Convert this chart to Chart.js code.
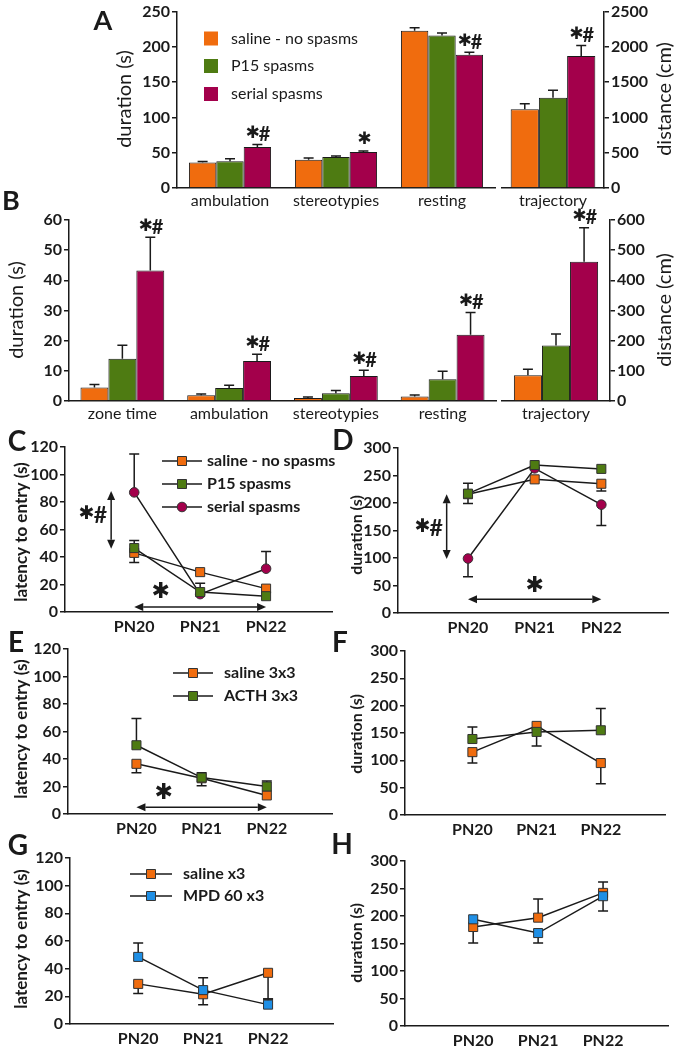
<!DOCTYPE html>
<html>
<head>
<meta charset="utf-8">
<script src="https://cdn.jsdelivr.net/npm/chart.js@4.4.1/dist/chart.umd.min.js"></script>
<style>
html, body { margin: 0; padding: 0; background: #fff; overflow: hidden; }
#wrap { position: relative; width: 677px; height: 1048px; }
#wrap canvas { position: absolute; left: 0; top: 0; }
</style>
</head>
<body>
<div id="wrap"></div>
<script>
// ---------- data ----------
const groupsAB = ['saline - no spasms', 'P15 spasms', 'serial spasms'];

// A: open field, whole session
const catsA = ['ambulation', 'stereotypies', 'resting'];
const salineA = [36, 40, 223];
const p15A = [38, 44, 216];
const serialA = [58, 51, 189];
const salineAErr = [1.5, 2.5, 4];
const p15AErr = [3.5, 1.5, 3.5];
const serialAErr = [3.5, 1.5, 3.5];
const starsA = ['*#', '*', '*#'];
const trajCat = ['trajectory'];
const trajA = [1115, 1280, 1870];
const trajAErr = [80, 105, 150];

// B: zone
const catsB = ['zone time', 'ambulation', 'stereotypies', 'resting'];
const salineB = [4.5, 1.9, 1.0, 1.5];
const p15B = [14, 4.3, 2.6, 7.2];
const serialB = [43.3, 13.3, 8.3, 22];
const salineBErr = [1, 0.4, 0.3, 0.5];
const p15BErr = [4.5, 0.9, 0.9, 2.7];
const serialBErr = [11, 2.2, 1.9, 7.3];
const starsB = ['*#', '*#', '*#', '*#'];
const trajB = [85, 184, 462];
const trajBErr = [20, 38, 112];

// C-H: days, signed errors (+ up, - down)
const days = ['PN20', 'PN21', 'PN22'];
const salineC = [43, 29, 17],    salineCErr = [-7, 0, 0];
const p15C = [46.5, 14.5, 11.5], p15CErr = [5.5, 6.5, 0];
const serialC = [87, 13, 31.5],  serialCErr = [28, 0, 12.5];

const salineD = [216, 243, 235], salineDErr = [-17, 0, -13];
const p15D = [217, 269, 262],    p15DErr = [19, 0, 0];
const serialD = [99, 263, 197],  serialDErr = [-33, 0, -38];

const groupsEF = ['saline 3x3', 'ACTH 3x3'];
const salineE = [36.5, 26, 13.5], salineEErr = [-6.5, -5.5, 0];
const acthE = [50, 26.5, 20],     acthEErr = [19.5, 3.5, 4];
const salineF = [115, 163, 95],   salineFErr = [-20, 0, -38];
const acthF = [139, 152, 155],    acthFErr = [22, -26, 40];

const groupsGH = ['saline x3', 'MPD 60 x3'];
const salineG = [29, 21.5, 37],   salineGErr = [-7, -7.5, -19];
const mpdG = [48.5, 24.5, 14],    mpdGErr = [10, 9, 4];
const salineH = [180, 197, 242],  salineHErr = [-29, 34, 20];
const mpdH = [194, 169, 236],     mpdHErr = [0, -18, -27];

// ---------- style ----------
const W = 677, H = 1048;
const INK = '#1a1a1a';
const FONT = 'Lato, "Open Sans", sans-serif';
const ORANGE = '#F06C0E', GREEN = '#4E7B12', RED = '#A3004B', BLUE = '#1F8FE5';
const barColors = [ORANGE, GREEN, RED];
const tickFont = { family: FONT, size: 16, weight: 'bold' };

function makeCanvas() {
  const c = document.createElement('canvas');
  c.width = W; c.height = H;
  document.getElementById('wrap').appendChild(c);
  return c.getContext('2d');
}

// chart area given in page pixels, y axis box has fixed width
function pad(area, yW, xH, right) {
  return right
    ? { left: area.l, top: area.t, right: W - area.r - yW, bottom: H - area.b - xH }
    : { left: area.l - yW, top: area.t, right: W - area.r, bottom: H - area.b - xH };
}

function vText(ctx, txt, x, y, font) {
  ctx.save();
  ctx.translate(x, y); ctx.rotate(-Math.PI / 2);
  ctx.font = font; ctx.fillStyle = INK;
  ctx.textAlign = 'center'; ctx.textBaseline = 'middle';
  ctx.fillText(txt, 0, 0);
  ctx.restore();
}
function hText(ctx, txt, x, y, font, align) {
  ctx.save();
  ctx.font = font; ctx.fillStyle = INK;
  ctx.textAlign = align || 'center'; ctx.textBaseline = 'middle';
  ctx.fillText(txt, x, y);
  ctx.restore();
}
function star(ctx, label, cx, cy, size) {
  ctx.save();
  ctx.fillStyle = INK; ctx.textBaseline = 'middle'; ctx.textAlign = 'left';
  const sf = size + 'px "DejaVu Sans"';
  const hf = 'bold ' + Math.round(size * 1.2) + 'px ' + FONT;
  ctx.font = sf; const ws = ctx.measureText('\u2731').width;
  ctx.font = hf; const wh = label.includes('#') ? ctx.measureText('#').width : 0;
  const x = cx - (ws + wh) / 2;
  ctx.font = sf; ctx.fillText('\u2731', x, cy);
  if (wh) { ctx.font = hf; ctx.fillText('#', x + ws - 1, cy + 1); }
  ctx.restore();
}
function arrow2(ctx, x1, y1, x2, y2) {
  const a = Math.atan2(y2 - y1, x2 - x1), L = 9, w = 4;
  const dx = Math.cos(a), dy = Math.sin(a);
  ctx.save();
  ctx.strokeStyle = INK; ctx.fillStyle = INK; ctx.lineWidth = 1.5;
  ctx.beginPath(); ctx.moveTo(x1 + dx * L, y1 + dy * L); ctx.lineTo(x2 - dx * L, y2 - dy * L); ctx.stroke();
  [[x1, y1, -1], [x2, y2, 1]].forEach(([px, py, s]) => {
    const bx = px - s * dx * L, by = py - s * dy * L;
    ctx.beginPath();
    ctx.moveTo(px, py);
    ctx.lineTo(bx - dy * w, by + dx * w);
    ctx.lineTo(bx + dy * w, by - dx * w);
    ctx.closePath(); ctx.fill();
  });
  ctx.restore();
}
function marker(ctx, style, x, y, color) {
  ctx.save();
  ctx.fillStyle = color; ctx.strokeStyle = '#333'; ctx.lineWidth = 1;
  ctx.beginPath();
  if (style === 'circle') ctx.arc(x, y, 4.8, 0, Math.PI * 2);
  else ctx.rect(x - 4.5, y - 4.5, 9, 9);
  ctx.fill(); ctx.stroke();
  ctx.restore();
}
function lineLegend(ctx, chart, x0, len, ys, textX, font) {
  chart.data.datasets.slice().sort((a, b) => a.legendIndex - b.legendIndex).forEach((ds, k) => {
    const y = ys[k];
    ctx.save();
    ctx.strokeStyle = INK; ctx.lineWidth = 1.5;
    ctx.beginPath(); ctx.moveTo(x0, y); ctx.lineTo(x0 + len, y); ctx.stroke();
    ctx.restore();
    marker(ctx, ds.pointStyle, x0 + len / 2, y, ds.pointBackgroundColor);
    hText(ctx, ds.label, textX, y, font, 'left');
  });
}

// error bars, drawn from each dataset's err array
function drawErr(chart) {
  const ctx = chart.ctx, ys = chart.scales.y;
  chart.data.datasets.forEach((ds, i) => {
    if (!ds.err) return;
    chart.getDatasetMeta(i).data.forEach((el, j) => {
      const e = ds.err[j];
      if (!e) return;
      const v = typeof ds.data[j] === 'object' ? ds.data[j].y : ds.data[j];
      const y0 = ys.getPixelForValue(v), y1 = ys.getPixelForValue(v + e);
      ctx.save();
      ctx.strokeStyle = INK; ctx.lineWidth = 1.5;
      ctx.beginPath();
      ctx.moveTo(el.x, y0); ctx.lineTo(el.x, y1);
      ctx.moveTo(el.x - 5, y1); ctx.lineTo(el.x + 5, y1);
      ctx.stroke();
      ctx.restore();
    });
  });
}
const errPlugin = {
  id: 'errBars',
  beforeDatasetsDraw(chart) { if (chart.config.type === 'line') drawErr(chart); },
  afterDatasetsDraw(chart) { if (chart.config.type === 'bar') drawErr(chart); }
};

// stars above the serial-spasms bar (dataset 2)
function barStars(chart, stars, size) {
  const ys = chart.scales.y, ds = chart.data.datasets[2];
  chart.getDatasetMeta(2).data.forEach((el, j) => {
    if (!stars[j]) return;
    const top = ys.getPixelForValue(ds.data[j] + (ds.err[j] || 0));
    star(chart.ctx, stars[j], el.x + 1, top - 11, size);
  });
}

// ---------- bar panels ----------
function barPanel(o) {
  const ctx = makeCanvas();
  const yW = 60, xH = 30;
  return new Chart(ctx, {
    type: 'bar',
    data: {
      labels: o.cats,
      datasets: o.series.map((s, k) => ({
        label: groupsAB[k], data: s, err: o.errs[k],
        backgroundColor: barColors[k], borderColor: INK, borderWidth: 1,
        categoryPercentage: o.catPct, barPercentage: 1
      }))
    },
    options: {
      responsive: false, animation: false, events: [],
      layout: { padding: pad(o.area, yW, xH, o.side === 'right') },
      plugins: { legend: { display: false }, tooltip: { enabled: false } },
      scales: {
        x: {
          afterFit: s => { s.height = xH; },
          grid: { display: false, drawTicks: false },
          border: { color: INK, width: 1.5 },
          ticks: { color: INK, font: { family: FONT, size: 16 }, padding: 3 }
        },
        y: {
          position: o.side, min: 0, max: o.yMax,
          afterFit: s => { s.width = yW; },
          ticks: { stepSize: o.yStep, color: INK, font: tickFont, padding: 2, callback: v => String(v) },
          grid: { drawOnChartArea: false, tickLength: 5, color: INK, lineWidth: 1.5 },
          border: { color: INK, width: 1.5 }
        }
      }
    },
    plugins: [errPlugin, { id: 'deco', afterDraw: c => o.draw(c) }]
  });
}

barPanel({
  area: { l: 177, t: 10, r: 495, b: 188 }, side: 'left', yMax: 250, yStep: 50,
  cats: catsA, series: [salineA, p15A, serialA], errs: [salineAErr, p15AErr, serialAErr], catPct: 0.775,
  draw: c => {
    const ctx = c.ctx;
    barStars(c, starsA, 17);
    hText(ctx, 'A', 103, 21, 'bold 27px ' + FONT);
    vText(ctx, 'duration (s)', 125, 99, '20px ' + FONT);
    groupsAB.forEach((g, k) => {
      const y = [38.5, 66, 94][k];
      ctx.fillStyle = barColors[k];
      ctx.fillRect(204, y - 7, 14, 14);
      hText(ctx, g, 231, y, '16px ' + FONT, 'left');
    });
  }
});
barPanel({
  area: { l: 502, t: 10, r: 604, b: 188 }, side: 'right', yMax: 2500, yStep: 500,
  cats: trajCat, series: trajA.map(v => [v]), errs: trajAErr.map(e => [e]), catPct: 0.83,
  draw: c => {
    barStars(c, ['*#'], 17);
    vText(c.ctx, 'distance (cm)', 665, 99, '20px ' + FONT);
  }
});
barPanel({
  area: { l: 69, t: 220, r: 496, b: 401 }, side: 'left', yMax: 60, yStep: 10,
  cats: catsB, series: [salineB, p15B, serialB], errs: [salineBErr, p15BErr, serialBErr], catPct: 0.785,
  draw: c => {
    barStars(c, starsB, 17);
    hText(c.ctx, 'B', 11, 201, 'bold 27px ' + FONT);
    vText(c.ctx, 'duration (s)', 17, 310, '20px ' + FONT);
  }
});
barPanel({
  area: { l: 502, t: 220, r: 610, b: 401 }, side: 'right', yMax: 600, yStep: 100,
  cats: trajCat, series: trajB.map(v => [v]), errs: trajBErr.map(e => [e]), catPct: 0.78,
  draw: c => {
    barStars(c, ['*#'], 17);
    vText(c.ctx, 'distance (cm)', 665, 310, '20px ' + FONT);
  }
});

// ---------- line panels ----------
const lineFont = 'bold 16px ' + FONT;
function series(label, vals, errs, color, style, order, legendIndex) {
  return {
    label, err: errs, order, legendIndex,
    data: vals.map((v, i) => ({ x: i, y: v })),
    borderColor: INK, borderWidth: 1.5, tension: 0,
    pointStyle: style, pointRadius: style === 'circle' ? 4.8 : 6.4,
    pointBackgroundColor: color, pointBorderColor: '#333', pointBorderWidth: 1
  };
}
function linePanel(o) {
  const ctx = makeCanvas();
  const yW = 60, xH = 32;
  return new Chart(ctx, {
    type: 'line',
    data: { datasets: o.datasets },
    options: {
      responsive: false, animation: false, events: [],
      layout: { padding: pad(o.area, yW, xH, false) },
      plugins: { legend: { display: false }, tooltip: { enabled: false } },
      scales: {
        x: {
          type: 'linear', min: -1.05, max: 3,
          afterFit: s => { s.height = xH; },
          afterBuildTicks: s => { s.ticks = days.map((d, i) => ({ value: i })); },
          grid: { display: false, drawTicks: false },
          border: { color: INK, width: 1.5 },
          ticks: { color: INK, font: tickFont, padding: 5, callback: v => days[v] }
        },
        y: {
          min: 0, max: o.yMax,
          afterFit: s => { s.width = yW; },
          ticks: { stepSize: o.yStep, color: INK, font: tickFont, padding: 2 },
          grid: { drawOnChartArea: false, tickLength: 5, color: INK, lineWidth: 1.5 },
          border: { color: INK, width: 1.5 }
        }
      }
    },
    plugins: [errPlugin, { id: 'deco', afterDraw: c => o.draw(c, c.scales.x, c.scales.y) }]
  });
}

linePanel({
  area: { l: 65, t: 447, r: 332, b: 612 }, yMax: 120, yStep: 20,
  datasets: [
    series(groupsAB[1], p15C, p15CErr, GREEN, 'rect', 0, 1),
    series(groupsAB[0], salineC, salineCErr, ORANGE, 'rect', 1, 0),
    series(groupsAB[2], serialC, serialCErr, RED, 'circle', 2, 2)
  ],
  draw: (c, x, y) => {
    const ctx = c.ctx;
    hText(ctx, 'C', 17, 442, 'bold 28px ' + FONT);
    vText(ctx, 'latency to entry (s)', 22, 532, 'bold 17px ' + FONT);
    lineLegend(ctx, c, 162, 40, [461, 484, 507], 207, lineFont);
    arrow2(ctx, x.getPixelForValue(-0.35), y.getPixelForValue(88), x.getPixelForValue(-0.35), y.getPixelForValue(46));
    star(ctx, '*#', x.getPixelForValue(-0.62), y.getPixelForValue(71), 19);
    arrow2(ctx, x.getPixelForValue(0), y.getPixelForValue(3.6), x.getPixelForValue(2), y.getPixelForValue(3.6));
    star(ctx, '*', x.getPixelForValue(0.4), y.getPixelForValue(14.5), 22);
  }
});
linePanel({
  area: { l: 398, t: 448, r: 668, b: 613 }, yMax: 300, yStep: 50,
  datasets: [
    series(groupsAB[1], p15D, p15DErr, GREEN, 'rect', 0, 1),
    series(groupsAB[0], salineD, salineDErr, ORANGE, 'rect', 1, 0),
    series(groupsAB[2], serialD, serialDErr, RED, 'circle', 2, 2)
  ],
  draw: (c, x, y) => {
    const ctx = c.ctx;
    hText(ctx, 'D', 343, 441, 'bold 28px ' + FONT);
    vText(ctx, 'duration (s)', 357, 535, lineFont);
    arrow2(ctx, x.getPixelForValue(-0.32), y.getPixelForValue(216), x.getPixelForValue(-0.32), y.getPixelForValue(98));
    star(ctx, '*#', x.getPixelForValue(-0.58), y.getPixelForValue(156), 19);
    arrow2(ctx, x.getPixelForValue(0), y.getPixelForValue(25), x.getPixelForValue(2), y.getPixelForValue(25));
    star(ctx, '*', x.getPixelForValue(1), y.getPixelForValue(49), 22);
  }
});
linePanel({
  area: { l: 68, t: 649, r: 332, b: 814 }, yMax: 120, yStep: 20,
  datasets: [
    series(groupsEF[1], acthE, acthEErr, GREEN, 'rect', 0, 1),
    series(groupsEF[0], salineE, salineEErr, ORANGE, 'rect', 1, 0)
  ],
  draw: (c, x, y) => {
    const ctx = c.ctx;
    hText(ctx, 'E', 16, 643, 'bold 28px ' + FONT);
    vText(ctx, 'latency to entry (s)', 22, 729, 'bold 17px ' + FONT);
    lineLegend(ctx, c, 173, 40, [673, 696], 224, lineFont);
    arrow2(ctx, x.getPixelForValue(0), y.getPixelForValue(5), x.getPixelForValue(2), y.getPixelForValue(5));
    star(ctx, '*', x.getPixelForValue(0.42), y.getPixelForValue(15), 22);
  }
});
linePanel({
  area: { l: 405, t: 651, r: 665, b: 815 }, yMax: 300, yStep: 50,
  datasets: [
    series(groupsEF[1], acthF, acthFErr, GREEN, 'rect', 0, 1),
    series(groupsEF[0], salineF, salineFErr, ORANGE, 'rect', 1, 0)
  ],
  draw: (c, x, y) => {
    hText(c.ctx, 'F', 340, 643, 'bold 28px ' + FONT);
    vText(c.ctx, 'duration (s)', 357, 734, lineFont);
  }
});
linePanel({
  area: { l: 70, t: 858, r: 333, b: 1024 }, yMax: 120, yStep: 20,
  datasets: [
    series(groupsGH[1], mpdG, mpdGErr, BLUE, 'rect', 0, 1),
    series(groupsGH[0], salineG, salineGErr, ORANGE, 'rect', 1, 0)
  ],
  draw: (c, x, y) => {
    const ctx = c.ctx;
    hText(ctx, 'G', 18, 846, 'bold 28px ' + FONT);
    vText(ctx, 'latency to entry (s)', 22, 939, 'bold 17px ' + FONT);
    lineLegend(ctx, c, 130, 42, [874, 896], 183, lineFont);
  }
});
linePanel({
  area: { l: 405, t: 861, r: 668, b: 1026 }, yMax: 300, yStep: 50,
  datasets: [
    series(groupsGH[1], mpdH, mpdHErr, BLUE, 'rect', 0, 1),
    series(groupsGH[0], salineH, salineHErr, ORANGE, 'rect', 1, 0)
  ],
  draw: (c, x, y) => {
    hText(c.ctx, 'H', 342, 845, 'bold 28px ' + FONT);
    vText(c.ctx, 'duration (s)', 357, 943, lineFont);
  }
});
</script>
</body>
</html>
